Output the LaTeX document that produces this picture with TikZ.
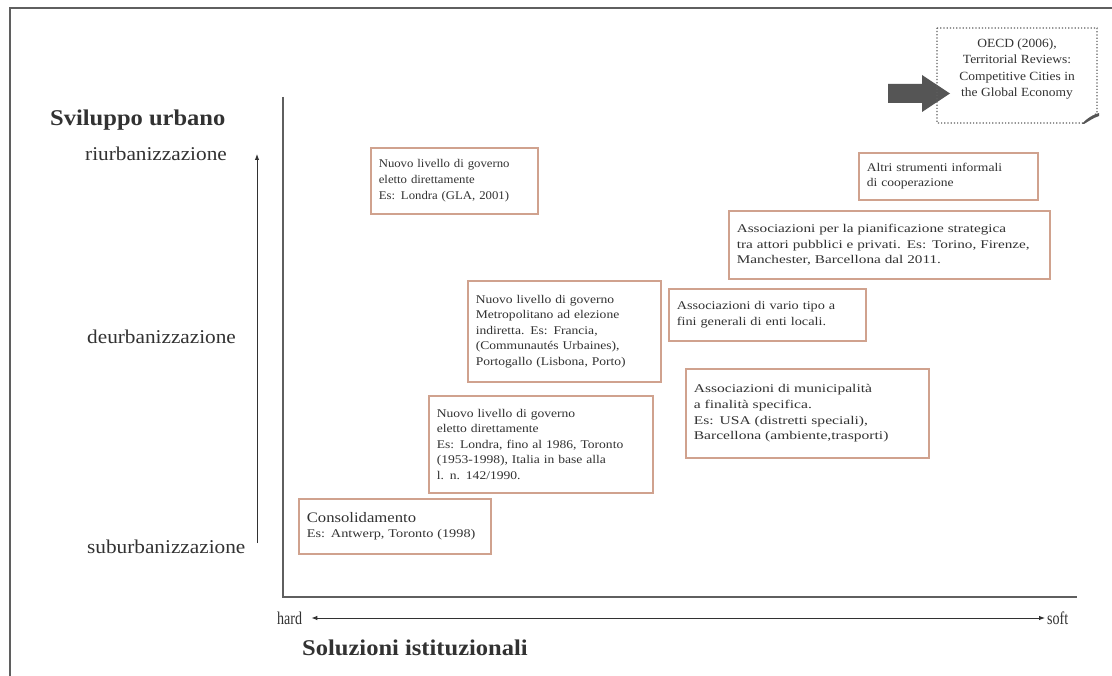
\documentclass[tikz,border=0pt]{standalone}
\usepackage{fontspec}
\setmainfont{Liberation Serif}
\newfontfamily\narrowfont[FakeStretch=0.78]{Liberation Serif}
\newfontfamily\boxfont[FakeStretch=1.15]{Liberation Serif}
\newfontfamily\boxfontA[FakeStretch=1.08]{Liberation Serif}
\newfontfamily\boxfontE[FakeStretch=1.21]{Liberation Serif}
\newfontfamily\boxfontC[FakeStretch=1.29]{Liberation Serif}
\newfontfamily\boxfontF[FakeStretch=1.32]{Liberation Serif}
\newfontfamily\labfont[FakeStretch=1.09]{Liberation Serif}
\newfontfamily\oecdfont[FakeStretch=1.08]{Liberation Serif}
\usetikzlibrary{arrows.meta,calc}
\definecolor{bx}{RGB}{208,162,142}
\definecolor{tx}{RGB}{50,50,50}
\definecolor{ax}{RGB}{95,95,95}
\definecolor{arr}{RGB}{85,85,85}
\begin{document}
\begin{tikzpicture}[x=1pt,y=-1pt,
  box/.style={draw=bx, line width=1.6pt, anchor=north west, align=left,
    inner xsep=8pt, inner ysep=0pt, text=tx,
    font=\boxfont\fontsize{11.8}{15.5}\selectfont},
  bff/.style={font=#1\fontsize{11.8}{15.8}\selectfont},
  axlabel/.style={text=tx, font=\labfont\fontsize{19.5}{22}\selectfont, inner sep=0pt},
  title/.style={text=tx, font=\labfont\fontsize{22.5}{25}\selectfont\bfseries, inner sep=0pt},
  axisline/.style={draw=ax, line width=1.5pt},
  thinarrow/.style={draw=tx, line width=0.9pt}]
\useasboundingbox (0,0) rectangle (1112,676);
\fill[white] (0,0) rectangle (1112,676);
% frame
\coordinate (fbl) at (10,676);
\coordinate (ftl) at (10,8);
\coordinate (ftr) at (1112,8);
\draw[draw=ax, line width=1.6pt] (fbl) -- (ftl) -- (ftr);
% axes
\coordinate (o) at (283,597);
\coordinate (ytop) at (283,97);
\coordinate (xend) at (1077,597);
\draw[axisline] (ytop) -- (o) -- (xend);
% y labels
\node[title, anchor=west] (sv) at (50,120) {Sviluppo urbano};
\node[axlabel, anchor=west] (riu) at (85,154) {riurbanizzazione};
\node[axlabel, anchor=west] (deu) at (87,337) {deurbanizzazione};
\node[axlabel, anchor=west] (sub) at (87,547) {suburbanizzazione};
\coordinate (ya) at (257,543);
\coordinate (yb) at (257,154);
\draw[thinarrow, -{Latex[length=6pt,width=4.5pt]}] (ya) -- (yb);
% x labels
\node[text=tx, font=\narrowfont\fontsize{18}{20}\selectfont, inner sep=0pt, anchor=west] (hard) at (277,618) {hard};
\node[text=tx, font=\narrowfont\fontsize{18}{20}\selectfont, inner sep=0pt, anchor=west] (soft) at (1047,618) {soft};
\draw[thinarrow, {Latex[length=6pt,width=4.5pt]}-{Latex[length=6pt,width=4.5pt]}] ($(hard.east)+(9,0)$) -- ($(soft.west)+(-2,0)$);
\node[title, anchor=west] (sol) at (302,648) {Soluzioni istituzionali};
% big arrow
\fill[arr] (888,84) -- (922,84) -- (922,75) -- (950,93.5) -- (922,112) -- (922,103) -- (888,103) -- cycle;
% OECD dotted box
\draw[draw=ax, line width=1.2pt, dotted] (937,28) -- (1097,28) -- (1097,113) -- (1084,123) -- (937,123) -- cycle;
\fill[arr] (1082,124) .. controls (1088,117) and (1093,115) .. (1099,113) -- (1099,116) .. controls (1093,118) and (1089,121) .. (1084,124) -- cycle;
\node[text=tx, align=center, font=\oecdfont\fontsize{12.5}{16.2}\selectfont, inner sep=0pt] (oecd) at (1017,69) {OECD (2006),\\Territorial Reviews:\\Competitive Cities in\\the Global Economy};
% boxes
\node[box, bff=\boxfontA, minimum width=167pt, minimum height=66pt, text width=151pt] (A) at (370,147)
  {Nuovo livello di governo\\eletto direttamente\\Es: Londra (GLA, 2001)};
\node[box, minimum width=179pt, minimum height=47pt, text width=163pt] (B) at (858,152)
  {Altri strumenti informali\\di cooperazione};
\node[box, bff=\boxfontC, minimum width=321pt, minimum height=68pt, text width=305pt] (C) at (728,210)
  {Associazioni per la pianificazione strategica\\tra attori pubblici e privati. Es: Torino, Firenze,\\Manchester, Barcellona dal 2011.};
\node[box, minimum width=193pt, minimum height=101pt, text width=177pt] (D) at (467,280)
  {Nuovo livello di governo\\Metropolitano ad elezione\\indiretta. Es: Francia,\\(Communautés Urbaines),\\Portogallo (Lisbona, Porto)};
\node[box, bff=\boxfontE, minimum width=197pt, minimum height=52pt, text width=181pt] (E) at (668,288)
  {Associazioni di vario tipo a\\fini generali di enti locali.};
\node[box, bff=\boxfontF, minimum width=243pt, minimum height=89pt, text width=227pt] (F) at (685,368)
  {Associazioni di municipalità\\a finalità specifica.\\Es: USA (distretti speciali),\\Barcellona (ambiente,trasporti)};
\node[box, minimum width=224pt, minimum height=97pt, text width=208pt] (G) at (428,395)
  {Nuovo livello di governo\\eletto direttamente\\Es: Londra, fino al 1986, Toronto\\(1953-1998), Italia in base alla\\l. n. 142/1990.};
\node[box, bff=\boxfontE, minimum width=192pt, minimum height=55pt, text width=176pt] (H) at (298,498)
  {{\boxfont\fontsize{14.5}{18}\selectfont Consolidamento}\\Es: Antwerp, Toronto (1998)};
\end{tikzpicture}
\end{document}
